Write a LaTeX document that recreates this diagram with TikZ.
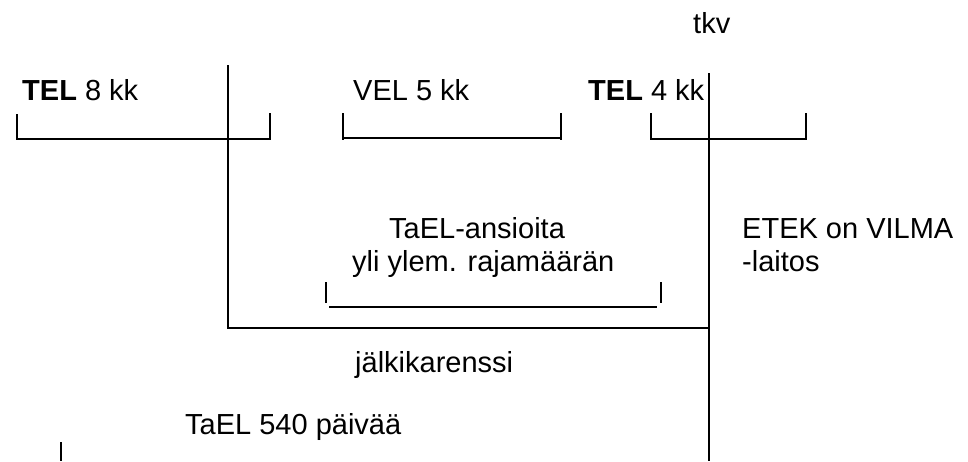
\documentclass[tikz,border=0pt]{standalone}
\usepackage{fontspec}
\setmainfont{Liberation Sans}
\begin{document}
\begin{tikzpicture}[x=1pt,y=-1pt,
  lbl/.style={anchor=base west,inner sep=0pt,font=\fontsize{29}{33}\selectfont},
  ln/.style={line width=1.6pt},
  tk/.style={line width=2pt},
  tkb/.style={line width=2.6pt}]
\useasboundingbox (0,0) rectangle (968,461);
% texts
\node[lbl] (tkv) at (693,33) {tkv};
\node[lbl] (tel8) at (22,100) {\textbf{TEL} 8 kk};
\node[lbl] (vel5) at (353,100) {VEL 5 kk};
\node[lbl] (tel4) at (588,100) {\textbf{TEL} 4 kk};
\node[lbl] (tael1) at (389,238) {TaEL-ansioita};
\node[lbl] (tael2) at (352,271) {yli ylem. rajamäärän};
\node[lbl] (etek1) at (742,238) {ETEK on VILMA};
\node[lbl] (etek2) at (742,271) {-laitos};
\node[lbl] (jalki) at (355,372) {jälkikarenssi};
\node[lbl] (tael540) at (185,434) {TaEL 540 päivää};
% L shape
\draw[ln] (228,65) -- (228,328) -- (709,328);
% tkv vertical
\draw[ln] (709,73) -- (709,461);
% top brackets
\draw[tk] (17,114) -- (17,140);
\draw[ln] (18,139) -- (270,139);
\draw[tk] (270,113) -- (270,140);
\draw[tk] (343,113) -- (343,140);
\draw[ln] (344,138) -- (561,138);
\draw[tk] (561,113) -- (561,140);
\draw[tk] (651,113) -- (651,140);
\draw[ln] (652,139) -- (806,139);
\draw[tk] (806,113) -- (806,140);
% middle bracket
\draw[tkb] (326,282) -- (326,303);
\draw[ln] (329,307) -- (657,307);
\draw[tkb] (661,282) -- (661,303);
% bottom tick
\draw[tk] (61,442) -- (61,461);
\end{tikzpicture}
\end{document}
